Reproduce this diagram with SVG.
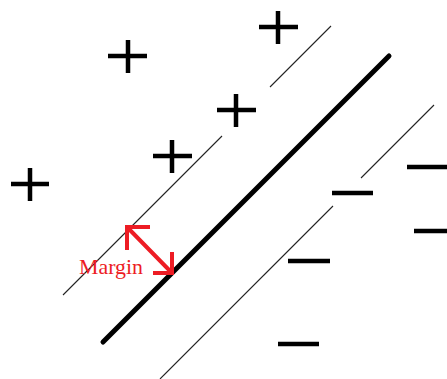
<svg xmlns="http://www.w3.org/2000/svg" width="447" height="379" viewBox="0 0 447 379">
<style>
.thin{stroke:#222;stroke-width:1.1;fill:none}
.thick{stroke:#000;stroke-width:5;stroke-linecap:round;fill:none}
.sym{stroke:#000;stroke-width:4.5;fill:none}
.arr{stroke:#ed1c24;stroke-width:4;fill:none}
.lbl{font-family:"Liberation Serif","Times New Roman",serif;font-size:21px;fill:#ed1c24}
</style>
<rect width="447" height="379" fill="#fff"/>
<g id="connectors">
<line class="thin" x1="63" y1="295" x2="222" y2="136"/>
<line class="thin" x1="270" y1="87" x2="331" y2="26"/>
<line class="thick" x1="103" y1="342" x2="389" y2="56"/>
<line class="thin" x1="160" y1="379" x2="333" y2="206"/>
<line class="thin" x1="361" y1="178" x2="434" y2="105"/>
</g>
<g id="plus1"><path class="sym" d="M259 27H298M278 11V44"/></g>
<g id="plus2"><path class="sym" d="M108 56H147M128 40V73"/></g>
<g id="plus3"><path class="sym" d="M217 110H256M236 94V127"/></g>
<g id="plus4"><path class="sym" d="M153 156H192M172 140V173"/></g>
<g id="plus5"><path class="sym" d="M11 184H49M30 168V201"/></g>
<g id="minus1"><path class="sym" d="M407 167H447"/></g>
<g id="minus2"><path class="sym" d="M332 193H373"/></g>
<g id="minus3"><path class="sym" d="M414 231H447"/></g>
<g id="minus4"><path class="sym" d="M288 261H330"/></g>
<g id="minus5"><path class="sym" d="M278 344H319"/></g>
<g id="margin">
<path class="arr" d="M127 227L172 273M150 227H127V250M153 273H172V252"/>
<text class="lbl" x="79" y="274" textLength="64" lengthAdjust="spacingAndGlyphs">Margin</text>
</g>
</svg>
